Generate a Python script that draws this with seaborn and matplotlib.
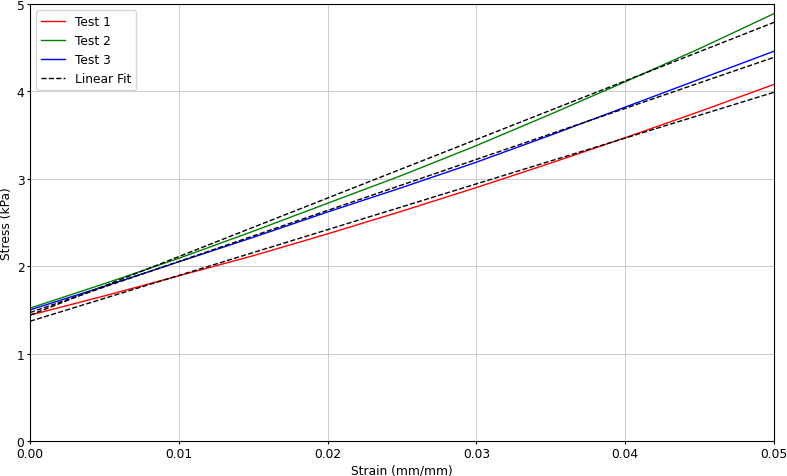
import numpy as np
import pandas as pd
import matplotlib
matplotlib.use("Agg")
import matplotlib.pyplot as plt
import seaborn as sns

# strain samples (mm/mm)
strain = [0.0, 0.005, 0.01, 0.015, 0.02, 0.025, 0.03, 0.035, 0.04, 0.045, 0.05]

# measured stress (kPa)
test1 = [1.44, 1.66, 1.89, 2.12, 2.37, 2.63, 2.90, 3.18, 3.47, 3.77, 4.08]
test2 = [1.52, 1.80, 2.09, 2.40, 2.72, 3.04, 3.38, 3.74, 4.11, 4.49, 4.89]
test3 = [1.50, 1.77, 2.05, 2.33, 2.62, 2.90, 3.19, 3.50, 3.82, 4.14, 4.46]

# linear fits, read at the two ends of the strain range
fit_x = [0.0, 0.05]
fit1 = [1.37, 3.99]
fit2 = [1.44, 4.79]
fit3 = [1.47, 4.39]

plt.rcParams["font.size"] = 8.8
plt.rcParams["xtick.major.size"] = 2.5
plt.rcParams["ytick.major.size"] = 2.5
plt.rcParams["xtick.major.pad"] = 1.5
plt.rcParams["ytick.major.pad"] = 1.5
plt.rcParams["axes.labelpad"] = 2.5

fig, ax = plt.subplots(figsize=(7.87, 4.77), dpi=100)

sns.lineplot(x=strain, y=test1, color="red", lw=1, label="Test 1", ax=ax)
sns.lineplot(x=strain, y=test2, color="green", lw=1, label="Test 2", ax=ax)
sns.lineplot(x=strain, y=test3, color="blue", lw=1, label="Test 3", ax=ax)

sns.lineplot(x=fit_x, y=fit1, color="black", lw=1, linestyle="--", label="Linear Fit", ax=ax)
sns.lineplot(x=fit_x, y=fit2, color="black", lw=1, linestyle="--", label="_nolegend_", ax=ax)
sns.lineplot(x=fit_x, y=fit3, color="black", lw=1, linestyle="--", label="_nolegend_", ax=ax)

ax.set_xlim(0, 0.05)
ax.set_ylim(0, 5)
ax.set_xticks([0.0, 0.01, 0.02, 0.03, 0.04, 0.05])
ax.set_xticklabels(["0.00", "0.01", "0.02", "0.03", "0.04", "0.05"])
ax.set_yticks([0, 1, 2, 3, 4, 5])
ax.grid(True, color="#c4c4c4", lw=0.6)

ax.set_xlabel("Strain (mm/mm)")
ax.set_ylabel("Stress (kPa)")
ax.legend(loc="upper left")

fig.subplots_adjust(left=30 / 787, right=774 / 787, top=1 - 5 / 477, bottom=1 - 442 / 477)
fig.savefig("out.png", dpi=100)
